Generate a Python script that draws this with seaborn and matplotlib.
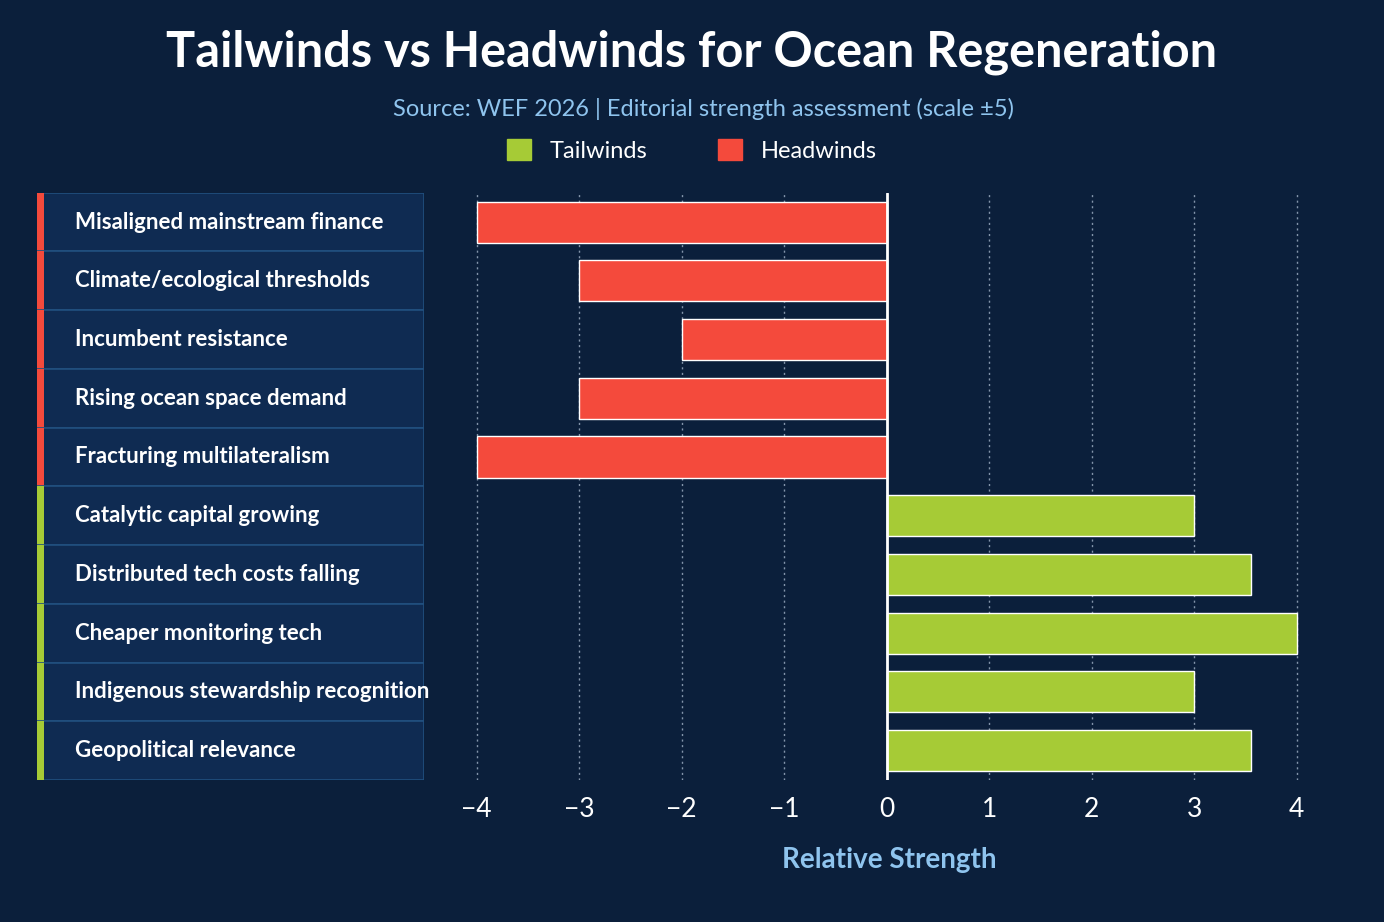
import matplotlib
matplotlib.use("Agg")
import matplotlib.pyplot as plt
import seaborn as sns
import pandas as pd
from matplotlib.patches import Rectangle, Patch

headwinds = ["Misaligned mainstream finance", "Climate/ecological thresholds",
             "Incumbent resistance", "Rising ocean space demand", "Fracturing multilateralism"]
head_vals = [-4, -3, -2, -3, -4]
tailwinds = ["Catalytic capital growing", "Distributed tech costs falling",
             "Cheaper monitoring tech", "Indigenous stewardship recognition", "Geopolitical relevance"]
tail_vals = [3, 3.55, 4, 3, 3.55]
ticks = [-4, -3, -2, -1, 0, 1, 2, 3, 4]

BG = "#0b1f3b"
RED = "#f44a3c"
GREEN = "#a6cb36"
LIGHT = "#8fc4ee"

df = pd.DataFrame({
    "factor": headwinds + tailwinds,
    "value": head_vals + tail_vals,
    "kind": ["Headwinds"] * 5 + ["Tailwinds"] * 5,
})

sns.set_theme(style="dark")
plt.rcParams["font.family"] = ["Lato", "DejaVu Sans"]

fig = plt.figure(figsize=(13.84, 9.22), dpi=100, facecolor=BG)
ax = fig.add_axes([0.337, 0.154, 0.611, 0.637], facecolor=BG)

sns.barplot(data=df, y="factor", x="value", hue="kind", dodge=False,
            palette={"Headwinds": RED, "Tailwinds": GREEN}, width=0.7,
            order=df["factor"], legend=False, ax=ax, saturation=1)

ax.set_xlim(-4.1, 4.15)
ax.set_ylim(9.5, -0.5)
ax.set_xticks(ticks)
ax.set_xticklabels([str(t).replace("-", "\u2212") for t in ticks], color="white", fontsize=19)
ax.set_yticks([])
ax.set_ylabel("")
ax.set_xlabel("Relative Strength", color=LIGHT, fontsize=20, fontweight="bold", labelpad=18)
ax.tick_params(axis="x", length=0, pad=12)
for s in ax.spines.values():
    s.set_visible(False)
ax.grid(False)
for t in ticks:
    if t != 0:
        ax.axvline(t, color="#b8c8dc", ls=(0, (1.5, 2.5)), lw=1, alpha=0.7, zorder=0)
ax.axvline(0, color="white", lw=2, zorder=3)

# label panel
lab = fig.add_axes([0.027, 0.154, 0.279, 0.637], facecolor=BG)
lab.set_xlim(0, 1)
lab.set_ylim(9.5, -0.5)
lab.axis("off")
for i, name in enumerate(df["factor"]):
    col = RED if df["kind"][i] == "Headwinds" else GREEN
    lab.add_patch(Rectangle((0, i - 0.5), 1, 1, facecolor="#0f2b52",
                            edgecolor="#21507f", lw=1.2))
    lab.add_patch(Rectangle((0, i - 0.5), 0.018, 1, facecolor=col, edgecolor="none"))
    lab.text(0.097, i, name, color="white", fontsize=16, fontweight="bold", va="center")

fig.text(0.5, 0.943, "Tailwinds vs Headwinds for Ocean Regeneration", color="white",
         fontsize=35, fontweight="bold", ha="center", va="center")
fig.text(0.508, 0.882, "Source: WEF 2026 | Editorial strength assessment (scale \u00b15)",
         color=LIGHT, fontsize=17, ha="center", va="center")
fig.legend(handles=[Patch(color=GREEN, label="Tailwinds"), Patch(color=RED, label="Headwinds")],
           loc="center", bbox_to_anchor=(0.5, 0.837), ncol=2, frameon=False,
           fontsize=17, labelcolor="white", handlelength=1, handleheight=1, columnspacing=3)

fig.savefig("out.png", dpi=100, facecolor=BG)
